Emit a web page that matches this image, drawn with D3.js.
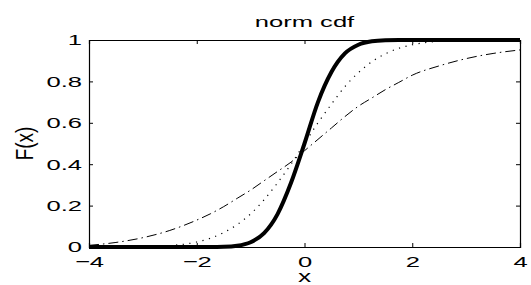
<!DOCTYPE html>
<html>
<head>
<meta charset="utf-8">
<script src="https://cdn.jsdelivr.net/npm/d3@7"></script>
<style>
  body { margin: 0; background: #fff; }
  text { font-family: "Liberation Sans", Arial, sans-serif; fill: #000; }
</style>
</head>
<body>
<svg id="chart" width="531" height="285"></svg>
<script>
// values
var xTicks = [-4, -2, 0, 2, 4];
var yTicks = [0, 0.2, 0.4, 0.6, 0.8, 1];
var xs = [-4, -3.5, -3, -2.5, -2, -1.75, -1.5, -1.25, -1, -0.75, -0.5, -0.25, 0,
          0.25, 0.5, 0.75, 1, 1.25, 1.5, 1.75, 2, 2.5, 3, 3.5, 4];
var thickF = [0, 0, 0, 0, 0, 0, 0.001, 0.006, 0.023, 0.067, 0.159, 0.31, 0.5,
              0.7, 0.845, 0.935, 0.977, 0.994, 0.999, 1, 1, 1, 1, 1, 1];
var dottedF = [0, 0, 0.002, 0.007, 0.024, 0.042, 0.07, 0.108, 0.16, 0.228, 0.31, 0.4, 0.5,
               0.6, 0.69, 0.775, 0.842, 0.895, 0.933, 0.96, 0.977, 0.994, 0.999, 1, 1];
var dashdotF = [0.008, 0.022, 0.045, 0.08, 0.13, 0.16, 0.195, 0.235, 0.275, 0.32, 0.365, 0.41, 0.465,
                0.52, 0.575, 0.63, 0.68, 0.72, 0.76, 0.795, 0.83, 0.875, 0.91, 0.935, 0.952];

var W = 531, H = 285;
var margin = {top: 40, right: 11, bottom: 38, left: 89};
var SX = 1.65; // the text in the picture is stretched sideways

var svg = d3.select("#chart");

var x = d3.scaleLinear().domain([-4, 4]).range([margin.left, W - margin.right]);
var y = d3.scaleLinear().domain([0, 1]).range([H - margin.bottom, margin.top]);

var fmtX = function(d) { return d3.format("")(d); };
var fmtY = function(d) { return d === 0 || d === 1 ? String(d) : d.toFixed(1); };

// curves
var line = d3.line()
    .x(function(d) { return x(d[0]); })
    .y(function(d) { return y(d[1]); })
    .curve(d3.curveMonotoneX);

function pairs(vals) { return xs.map(function(v, i) { return [v, vals[i]]; }); }

svg.append("path").attr("d", line(pairs(dashdotF)))
    .attr("fill", "none").attr("stroke", "#000").attr("stroke-width", 1)
    .attr("stroke-dasharray", "10,4,1.5,4");
svg.append("path").attr("d", line(pairs(dottedF)))
    .attr("fill", "none").attr("stroke", "#000").attr("stroke-width", 1.2)
    .attr("stroke-dasharray", "1.2,5.5");
svg.append("path").attr("d", line(pairs(thickF)))
    .attr("fill", "none").attr("stroke", "#000").attr("stroke-width", 4)
    .attr("stroke-linejoin", "round");

// axes, ticks pointing inward
var gB = svg.append("g").attr("transform", "translate(0," + y(0) + ")")
    .call(d3.axisBottom(x).tickValues(xTicks).tickSize(-4).tickPadding(9).tickFormat(fmtX));
var gT = svg.append("g").attr("transform", "translate(0," + y(1) + ")")
    .call(d3.axisTop(x).tickValues(xTicks).tickSize(-4).tickFormat(""));
var gL = svg.append("g").attr("transform", "translate(" + x(-4) + ",0)")
    .call(d3.axisLeft(y).tickValues(yTicks).tickSize(-4).tickPadding(7).tickFormat(fmtY));
var gR = svg.append("g").attr("transform", "translate(" + x(4) + ",0)")
    .call(d3.axisRight(y).tickValues(yTicks).tickSize(-4).tickFormat(""));

[gB, gT, gL, gR].forEach(function(g) {
    g.select(".domain").attr("stroke", "#000").attr("stroke-width", 1.2);
    g.selectAll(".tick line").attr("stroke", "#000");
    g.selectAll("text").attr("font-size", 15.5).attr("font-family", null).attr("fill", "#000");
});
gB.selectAll(".tick text").attr("transform", "scale(" + SX + ",1)");
gL.selectAll(".tick text")
    .attr("x", -7 / SX)
    .attr("transform", "scale(" + SX + ",1)");

// title and labels
svg.append("text")
    .attr("transform", "translate(" + ((x(-4) + x(4)) / 2) + ",27) scale(" + SX + ",1)")
    .attr("text-anchor", "middle").attr("font-size", 15.5)
    .text("norm cdf");
svg.append("text")
    .attr("transform", "translate(" + ((x(-4) + x(4)) / 2) + ",282) scale(" + SX + ",1)")
    .attr("text-anchor", "middle").attr("font-size", 16)
    .text("x");
svg.append("text")
    .attr("transform", "translate(33," + ((y(0) + y(1)) / 2) + ") scale(1.25,1) rotate(-90)")
    .attr("text-anchor", "middle").attr("font-size", 19)
    .text("F(x)");
</script>
</body>
</html>
